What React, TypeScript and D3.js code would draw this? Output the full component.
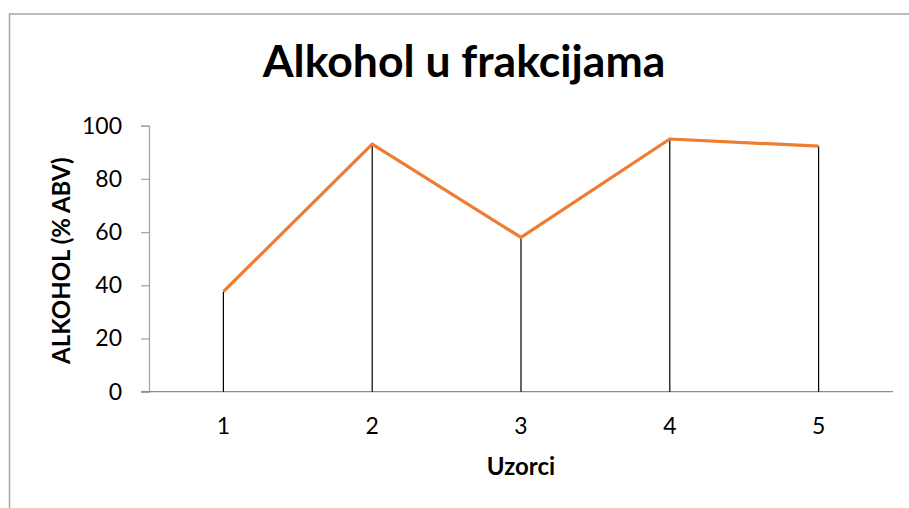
import React, { useRef, useEffect } from 'react';
import * as d3 from 'd3';

const categories = ['1', '2', '3', '4', '5'];
const values = [37.6, 93.1, 58.0, 95.0, 92.3];
const yTicks = [0, 20, 40, 60, 80, 100];

const title = 'Alkohol u frakcijama';
const xTitle = 'Uzorci';
const yTitle = 'ALKOHOL (% ABV)';

const App: React.FC = () => {
    const ref = useRef<SVGSVGElement>(null);

    useEffect(() => {
        const svg = d3.select(ref.current);
        svg.selectAll('*').remove();

        const font = 'Lato, "Open Sans", sans-serif';

        // Cornice del grafico
        svg.append('rect')
            .attr('x', 9.5)
            .attr('y', 14)
            .attr('width', 930)
            .attr('height', 520)
            .attr('fill', 'white')
            .attr('stroke', '#a6a6a6')
            .attr('stroke-width', 1.5);

        const left = 149, right = 893, top = 125.7, bottom = 391.7;

        const x = d3.scaleBand()
            .domain(categories)
            .range([left, right]);

        const y = d3.scaleLinear()
            .domain([0, 100])
            .range([bottom, top]);

        // Asse Y
        const yAxis = svg.append('g')
            .attr('transform', `translate(${left},0)`)
            .call(d3.axisLeft(y).tickValues(yTicks).tickSize(8).tickPadding(19));
        yAxis.select('.domain').attr('stroke', '#a6a6a6').attr('stroke-width', 1.3);
        yAxis.selectAll('.tick line').attr('stroke', '#a6a6a6').attr('stroke-width', 1.3);
        yAxis.selectAll('.tick text')
            .style('font-family', font)
            .style('font-size', '23px')
            .attr('fill', '#000');

        // Asse X
        svg.append('line')
            .attr('x1', left - 8)
            .attr('x2', right)
            .attr('y1', y(0))
            .attr('y2', y(0))
            .attr('stroke', '#8c8c8c')
            .attr('stroke-width', 1.3);

        svg.selectAll('.xlabel')
            .data(categories)
            .enter()
            .append('text')
            .attr('class', 'xlabel')
            .attr('x', d => x(d)! + x.bandwidth() / 2)
            .attr('y', 434)
            .attr('text-anchor', 'middle')
            .style('font-family', font)
            .style('font-size', '23px')
            .text(d => d);

        // Linee di caduta
        svg.selectAll('.drop')
            .data(values)
            .enter()
            .append('line')
            .attr('class', 'drop')
            .attr('x1', (d, i) => x(categories[i])! + x.bandwidth() / 2)
            .attr('x2', (d, i) => x(categories[i])! + x.bandwidth() / 2)
            .attr('y1', d => y(d))
            .attr('y2', y(0))
            .attr('stroke', '#000')
            .attr('stroke-width', 1.2);

        // Linea
        const line = d3.line<number>()
            .x((d, i) => x(categories[i])! + x.bandwidth() / 2)
            .y(d => y(d));

        svg.append('path')
            .datum(values)
            .attr('d', line)
            .attr('fill', 'none')
            .attr('stroke', '#ED7D31')
            .attr('stroke-width', 3.2)
            .attr('stroke-linejoin', 'round');

        // Titoli
        svg.append('text')
            .attr('x', 464)
            .attr('y', 77)
            .attr('text-anchor', 'middle')
            .style('font-family', font)
            .style('font-weight', 'bold')
            .style('font-size', '44.5px')
            .text(title);

        svg.append('text')
            .attr('x', (left + right) / 2)
            .attr('y', 475)
            .attr('text-anchor', 'middle')
            .style('font-family', font)
            .style('font-weight', 'bold')
            .style('font-size', '24px')
            .text(xTitle);

        svg.append('text')
            .attr('transform', `translate(70,${(top + bottom) / 2 + 2}) rotate(-90)`)
            .attr('text-anchor', 'middle')
            .style('font-family', font)
            .style('font-weight', 'bold')
            .style('font-size', '24px')
            .text(yTitle);
    }, []);

    return (
        <svg
            ref={ref}
            width={909}
            height={508}
            style={{ position: 'absolute', left: 0, top: 0 }}
        />
    );
};

export default App;
